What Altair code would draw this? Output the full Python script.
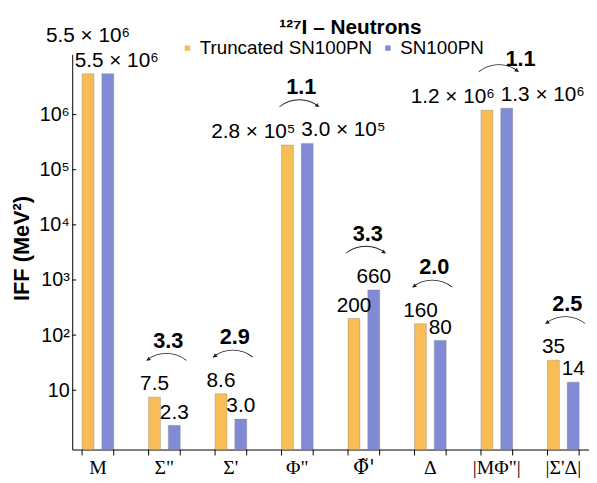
import json
import math
import altair as alt
import pandas as pd

CATEGORIES = ["M", 'Σ"', "Σ'", 'Φ"', "Φ̃'", "Δ", '|MΦ"|', "|Σ'Δ|"]
SERIES = ["Truncated SN100PN", "SN100PN"]
TRUNCATED = [5.5e6, 7.5, 8.6, 2.8e5, 200, 160, 1.2e6, 35]
FULL = [5.5e6, 2.3, 3.0, 3.0e5, 660, 80, 1.3e6, 14]
RATIO_LABELS = ["", "3.3", "2.9", "1.1", "3.3", "2.0", "1.1", "2.5"]
Y_TICKS = [10, 100, 1000, 10000, 100000, 1000000]
Y_TICK_LABELS = ["10", "10²", "10³", "10⁴", "10⁵", "10⁶"]
COLORS = ["#F8BE55", "#818BD5"]

STACKED = ["M"]                 # labels that would collide: raise the first one
SPLIT = ['Φ"', '|MΦ"|']        # wide labels pushed apart
TILDE = ["Φ̃'"]                  # label needing a font with combining marks
RATIO_SHIFT = ['|MΦ"|']        # ratio text moved clear of the legend

SUP = str.maketrans("0123456789", "⁰¹²³⁴⁵⁶⁷⁸⁹")


def fmt(v):
    if v >= 1e4:
        e = int(math.floor(math.log10(v)))
        m = v / 10 ** e
        return f"{m:.1f} × 10" + str(e).translate(SUP)
    if v < 10:
        return f"{v:.1f}"
    return f"{v:.0f}"


rows = []
for c, a, b in zip(CATEGORIES, TRUNCATED, FULL):
    rows.append(dict(cat=c, series=SERIES[0], value=a, label=fmt(a)))
    rows.append(dict(cat=c, series=SERIES[1], value=b, label=fmt(b)))
bars_df = pd.DataFrame(rows)

ratio_rows = []
for c, a, b, r in zip(CATEGORIES, TRUNCATED, FULL, RATIO_LABELS):
    if r:
        ratio_rows.append(dict(cat=c, ratio=r, ymax=max(a, b),
                               dir="left" if a > b else "right"))
ratio_df = pd.DataFrame(ratio_rows)
ticks_df = pd.DataFrame({"t": Y_TICKS})
cats_df = pd.DataFrame({"cat": CATEGORIES})

# y-axis label expression built from the tick lists
expr = "''"
for v, lab in zip(Y_TICKS, Y_TICK_LABELS):
    expr = f"(abs(log(datum.value)/log(10) - {math.log10(v):.0f}) < 0.01 ? '{lab}' : {expr})"

FONT = "Liberation Sans"
xscale = alt.Scale(paddingInner=0.5244, paddingOuter=0.1486)
yscale = alt.Scale(type="log", domain=[0.84, 1.24e7], nice=False)

label_font = {"condition": {"test": f"indexof({json.dumps(TILDE)}, datum.value) >= 0",
                            "value": "DejaVu Serif"},
              "value": "Liberation Serif"}

X_AX = alt.X("cat:N", sort=CATEGORIES, scale=xscale,
             axis=alt.Axis(title=None, ticks=False, tickSize=0, labelPadding=8,
                           labelFont=label_font, labelFontSize=20, labelAngle=0,
                           labelColor="black", domainColor="black", domainWidth=1,
                           grid=False))
X = alt.X("cat:N", sort=CATEGORIES)
XO = alt.XOffset("series:N", sort=SERIES, scale=alt.Scale(paddingInner=0.4, paddingOuter=0))

bars = alt.Chart(bars_df).mark_bar(stroke="#777777", strokeWidth=0.7, strokeOpacity=0.5).encode(
    x=X_AX,
    xOffset=XO,
    y=alt.Y("value:Q", scale=yscale, stack=None,
            axis=alt.Axis(title="IFF (MeV²)", values=Y_TICKS, labelExpr=expr, ticks=False,
                          tickSize=0, labelPadding=3, labelFont=FONT, labelFontSize=20,
                          labelColor="black", domainColor="black", grid=False,
                          titleFont=FONT, titleFontSize=22, titleFontWeight="bold",
                          titleColor="black", titleX=-51, titleY=196, titleAngle=270,
                          titleAlign="center", titleBaseline="middle")),
    y2=alt.value(400),
    color=alt.Color("series:N", scale=alt.Scale(domain=SERIES, range=COLORS),
                    legend=alt.Legend(title=None, orient="none", legendX=107, legendY=-16,
                                      direction="horizontal", symbolType="square",
                                      symbolSize=30, symbolStrokeWidth=0, labelFont=FONT,
                                      labelFontSize=19, labelColor="black", columnPadding=6,
                                      labelOffset=3, labelLimit=0)),
)


def text_layer(filt, **kw):
    props = dict(fontSize=21, font=FONT, baseline="alphabetic", color="black")
    props.update(kw)
    return alt.Chart(bars_df).transform_filter(filt).mark_text(**props).encode(
        x=X, xOffset=XO, y=alt.Y("value:Q"), text="label:N")


special = json.dumps(STACKED + SPLIT)
lab_normal = text_layer(f"indexof({special}, datum.cat) < 0", dy=-7)
lab_m_a = text_layer(f"indexof({json.dumps(STACKED)}, datum.cat) >= 0 && datum.series == '{SERIES[0]}'", dy=-32)
lab_m_b = text_layer(f"indexof({json.dumps(STACKED)}, datum.cat) >= 0 && datum.series == '{SERIES[1]}'", dy=-7, dx=9)
lab_s_a = text_layer(f"indexof({json.dumps(SPLIT)}, datum.cat) >= 0 && datum.series == '{SERIES[0]}'", dy=-7, dx=8, align="right")
lab_s_b = text_layer(f"indexof({json.dumps(SPLIT)}, datum.cat) >= 0 && datum.series == '{SERIES[1]}'", dy=-7, dx=-6, align="left")


def ratio_layer(filt, dx, dy):
    return alt.Chart(ratio_df).transform_filter(filt).mark_text(
        fontSize=22, font=FONT, fontWeight="bold", baseline="alphabetic", color="black",
        dx=dx, dy=dy).encode(x=X, y=alt.Y("ymax:Q"), text="ratio:N")


shift = json.dumps(RATIO_SHIFT)
ratio_text = ratio_layer(f"indexof({shift}, datum.cat) < 0", 4, -50)
ratio_text_shift = ratio_layer(f"indexof({shift}, datum.cat) >= 0", 24, -43)

arcs = alt.Chart(ratio_df).mark_arc(theta=2 * math.pi - 0.675, theta2=2 * math.pi + 0.675,
                                    outerRadius=32.6, innerRadius=31.8, color="#222222",
                                    xOffset=2, yOffset=-12).encode(x=X, y=alt.Y("ymax:Q"))

head_l = alt.Chart(ratio_df).transform_filter("datum.dir == 'left'").mark_point(
    shape="triangle-up", filled=True, size=20, color="#222222", opacity=1, angle=231,
    xOffset=2 - 18.4, yOffset=-38).encode(x=X, y=alt.Y("ymax:Q"))
head_r = alt.Chart(ratio_df).transform_filter("datum.dir == 'right'").mark_point(
    shape="triangle-up", filled=True, size=20, color="#222222", opacity=1, angle=129,
    xOffset=2 + 18.4, yOffset=-38).encode(x=X, y=alt.Y("ymax:Q"))

xticks0 = alt.Chart(cats_df).mark_rule(color="black", strokeWidth=1).encode(
    x=alt.X("cat:N", sort=CATEGORIES, bandPosition=0), y=alt.value(400), y2=alt.value(406))
xticks1 = alt.Chart(cats_df).mark_rule(color="black", strokeWidth=1).encode(
    x=alt.X("cat:N", sort=CATEGORIES, bandPosition=1), y=alt.value(400), y2=alt.value(406))
yticks = alt.Chart(ticks_df).mark_rule(color="black", strokeWidth=1).encode(
    y=alt.Y("t:Q"), x=alt.value(0), x2=alt.value(4))

chart = alt.layer(
    bars, xticks0, xticks1, yticks, lab_normal, lab_m_a, lab_m_b, lab_s_a, lab_s_b,
    arcs, head_l, head_r, ratio_text, ratio_text_shift,
).properties(
    width=523, height=400,
    autosize=alt.AutoSizeParams(type="none"),
    padding={"left": 65, "top": 44, "right": 0, "bottom": 30},
    title=alt.TitleParams("¹²⁷I – Neutrons", fontSize=21, fontWeight="bold", font=FONT,
                          anchor="middle", dx=20, offset=0, dy=30, frame="group",
                          baseline="alphabetic", color="black"),
).configure_view(stroke=None)

chart.save("out.html", embed_options={"renderer": "svg", "actions": False})
